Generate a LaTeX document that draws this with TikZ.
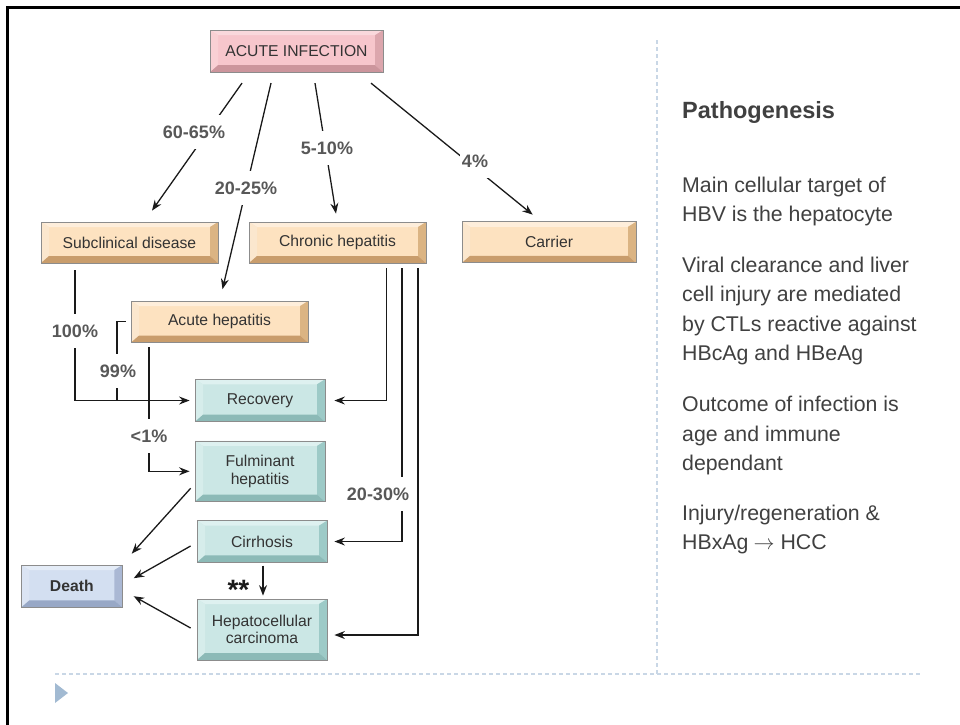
\documentclass[tikz,border=0pt]{standalone}
\usepackage{fontspec}
\usepackage{graphicx}
\setmainfont{Liberation Sans}
\usetikzlibrary{arrows.meta,calc}
\definecolor{orF}{HTML}{FDE2C0}\definecolor{orT}{HTML}{FEEEDB}\definecolor{orL}{HTML}{FBE7CE}\definecolor{orR}{HTML}{DBB483}\definecolor{orB}{HTML}{C99D6C}
\definecolor{pkF}{HTML}{F7C6CC}\definecolor{pkT}{HTML}{FAD8DC}\definecolor{pkL}{HTML}{F9D0D4}\definecolor{pkR}{HTML}{DCA6AD}\definecolor{pkB}{HTML}{CC959C}
\definecolor{tlF}{HTML}{CBE7E5}\definecolor{tlT}{HTML}{DEF1F0}\definecolor{tlL}{HTML}{D6EDEB}\definecolor{tlR}{HTML}{9DCAC7}\definecolor{tlB}{HTML}{8CBAB7}
\definecolor{blF}{HTML}{D3DFF1}\definecolor{blT}{HTML}{E4ECF7}\definecolor{blL}{HTML}{DBE4F3}\definecolor{blR}{HTML}{AAB8D4}\definecolor{blB}{HTML}{98A8C6}
\definecolor{boxtxt}{HTML}{333333}
\definecolor{lbltxt}{HTML}{585858}
\definecolor{linecol}{HTML}{1A1A1A}
\definecolor{rtxt}{HTML}{404040}
\definecolor{dashcol}{HTML}{C9D7E6}
\definecolor{tricol}{HTML}{A2BAD2}
\tikzset{
  bevel/.style n args={5}{fill=#1, draw=black!45, line width=0.8pt,
    path picture={
      \fill[#2] (path picture bounding box.north west) -- (path picture bounding box.north east)
        -- ([shift={(-8pt,-5pt)}]path picture bounding box.north east) -- ([shift={(8pt,-5pt)}]path picture bounding box.north west) -- cycle;
      \fill[#3] (path picture bounding box.north west) -- (path picture bounding box.south west)
        -- ([shift={(8pt,7pt)}]path picture bounding box.south west) -- ([shift={(8pt,-5pt)}]path picture bounding box.north west) -- cycle;
      \fill[#4] (path picture bounding box.north east) -- (path picture bounding box.south east)
        -- ([shift={(-8pt,7pt)}]path picture bounding box.south east) -- ([shift={(-8pt,-5pt)}]path picture bounding box.north east) -- cycle;
      \fill[#5] (path picture bounding box.south west) -- (path picture bounding box.south east)
        -- ([shift={(-8pt,7pt)}]path picture bounding box.south east) -- ([shift={(8pt,7pt)}]path picture bounding box.south west) -- cycle;
    }},
  box/.style={inner sep=0pt, text=boxtxt, align=center, font=\fontsize{15.7}{17.5}\selectfont},
  orbox/.style={box, bevel={orF}{orT}{orL}{orR}{orB}},
  pkbox/.style={box, bevel={pkF}{pkT}{pkL}{pkR}{pkB}},
  tlbox/.style={box, bevel={tlF}{tlT}{tlL}{tlR}{tlB}},
  blbox/.style={box, bevel={blF}{blT}{blL}{blR}{blB}},
  lbl/.style={fill=white, inner xsep=1.5pt, inner ysep=0pt, minimum height=34pt, text=lbltxt, font=\fontsize{18}{20}\bfseries\selectfont},
  ln/.style={draw=linecol, line width=1.3pt},
  arr/.style={ln, -{Stealth[length=10.5pt,width=8pt,inset=3.5pt]}},
  rt/.style={anchor=base west, inner sep=0pt, text=rtxt, font=\fontsize{21.3}{29.4}\selectfont},
}
\begin{document}
\begin{tikzpicture}[x=1pt,y=-1pt]
\useasboundingbox (0,0) rectangle (960,724);
% frame
\draw[line width=2.5pt, black] (7.5,730) -- (7.5,7.5) -- (965,7.5);
% dashed separators
\draw[dashcol, line width=1.3pt, dash pattern=on 4pt off 3pt] (657,40) -- (657,674);
\draw[dashcol, line width=1.3pt, dash pattern=on 4pt off 3pt] (55,674) -- (920,674);
\fill[tricol] (55,683) -- (68,693) -- (55,703) -- cycle;

% boxes
\node[pkbox, minimum width=173pt, minimum height=42pt] (acute) at (296.5,51.2) {ACUTE INFECTION};
\node[orbox, minimum width=177pt, minimum height=41pt] (sub) at (129.5,242.5) {Subclinical disease};
\node[orbox, minimum width=177pt, minimum height=41pt] (chronic) at (337.5,242.5) {Chronic hepatitis};
\node[orbox, minimum width=174pt, minimum height=41pt] (carrier) at (549,242.3) {Carrier};
\node[orbox, minimum width=177pt, minimum height=41.5pt] (acuteh) at (219.5,321.8) {Acute hepatitis};
\node[tlbox, minimum width=130pt, minimum height=42.4pt] (recovery) at (260,400.5) {Recovery};
\node[tlbox, minimum width=130pt, minimum height=60.7pt] (fulminant) at (260,471.3) {Fulminant\\hepatitis};
\node[tlbox, minimum width=130pt, minimum height=41.6pt] (cirrhosis) at (262,541.5) {Cirrhosis};
\node[tlbox, minimum width=130pt, minimum height=61pt] (hcc) at (262,629.5) {Hepatocellular\\carcinoma};
\node[blbox, minimum width=101pt, minimum height=42.3pt, font=\fontsize{15.7}{17.5}\bfseries\selectfont] (death) at (71.8,586.2) {Death};

% connectors from acute infection
\draw[arr] ([shift={(-54.5pt,-10.5pt)}]acute.south) -- ([shift={(22.5pt,11pt)}]sub.north);
\draw[arr] ([shift={(-25.5pt,-10.5pt)}]acute.south) -- ([shift={(3pt,11.5pt)}]acuteh.north);
\draw[arr] ([shift={(18.5pt,-10.5pt)}]acute.south) -- ([shift={(-1.5pt,8pt)}]chronic.north);
\draw[arr] ([shift={(74.5pt,-10.5pt)}]acute.south) -- ([shift={(-16.3pt,6.7pt)}]carrier.north);

% lower connectors
\coordinate (j99) at (117,400.5);
\draw[arr] ([shift={(-54.5pt,-7pt)}]sub.south) |- ([xshift=-5pt]recovery.west);
\draw[ln] ([xshift=-5pt]acuteh.west) -| (j99);
\draw[arr] ([shift={(-70.5pt,-4.5pt)}]acuteh.south) |- ([xshift=-5pt]fulminant.west);
\draw[arr] ([shift={(49pt,-5pt)}]chronic.south) |- ([xshift=9pt]recovery.east);
\draw[arr] ([shift={(64.5pt,-5pt)}]chronic.south) |- ([xshift=7pt]cirrhosis.east);
\draw[arr] ([shift={(80.5pt,-5pt)}]chronic.south) |- ([shift={(7pt,-5.5pt)}]hcc.east);
\draw[arr] ([shift={(-4pt,-17pt)}]fulminant.west) -- ([shift={(9pt,11pt)}]death.north east);
\draw[arr] ([shift={(-6pt,-4.5pt)}]cirrhosis.west) -- ([shift={(11pt,8pt)}]death.east);
\draw[arr] ([shift={(-6pt,1.5pt)}]hcc.west) -- ([shift={(11pt,-10pt)}]death.east);
\draw[arr] ([shift={(1pt,-3pt)}]cirrhosis.south) -- ([shift={(1pt,3pt)}]hcc.north);

% labels
\node[lbl] (l6065) at (194,132) {60-65\%};
\node[lbl] (l2025) at (246,188) {20-25\%};
\node[lbl] (l510) at (327,148) {5-10\%};
\node[lbl] (l4) at (475,161) {4\%};
\node[lbl] (l100) at (75,331) {100\%};
\node[lbl] (l99) at (118,371) {99\%};
\node[lbl] (l1) at (149,436) {<1\%};
\node[lbl] (l2030) at (378,494) {20-30\%};
\node[anchor=base, inner sep=0pt, text=linecol, font=\fontsize{28}{28}\bfseries\selectfont] (stars) at (238.5,599) {**};

% right text
\node[rt, font=\fontsize{23.5}{28}\bfseries\selectfont] (pg) at (682,118.3) {Pathogenesis};
\node[rt] (t1) at (682,192.3) {Main cellular target of};
\node[rt] (t2) at (682,221.7) {HBV is the hepatocyte};
\node[rt] (t3) at (682,272.3) {Viral clearance and liver};
\node[rt] (t4) at (682,301.7) {cell injury are mediated};
\node[rt] (t5) at (682,331.1) {by CTLs reactive against};
\node[rt] (t6) at (682,360.5) {HBcAg and HBeAg};
\node[rt] (t7) at (682,411.7) {Outcome of infection is};
\node[rt] (t8) at (682,441.1) {age and immune};
\node[rt] (t9) at (682,470.5) {dependant};
\node[rt] (t10) at (682,520) {Injury/regeneration \&};
\node[rt] (t11) at (682,549.4) {HBxAg\hspace{5pt}\resizebox{21pt}{!}{$\rightarrow$}\hspace{6pt}HCC};
\end{tikzpicture}
\end{document}
